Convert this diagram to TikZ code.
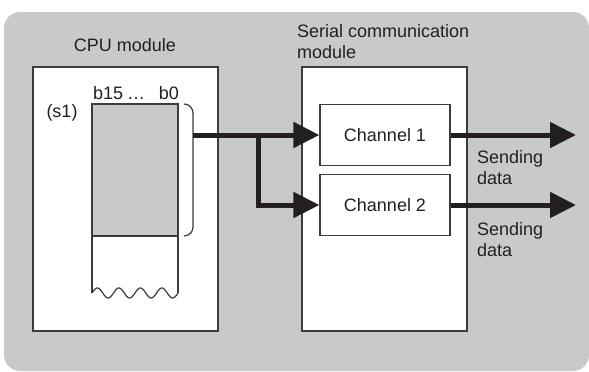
\documentclass[tikz,border=0pt]{standalone}
\usepackage{fontspec}
\setmainfont{Liberation Sans}
\usetikzlibrary{arrows.meta}
\definecolor{bggray}{HTML}{C8C9CB}
\definecolor{ink}{HTML}{231F20}
\definecolor{edge}{HTML}{3C3C3C}
\tikzset{
  lbl/.style={font=\fontsize{18}{21}\selectfont, text=ink, inner sep=0pt},
  modbox/.style={draw=edge, line width=1.2pt, fill=white},
  chbox/.style={draw=edge, line width=1.2pt, fill=white, minimum width=130pt, minimum height=61pt, inner sep=0pt, font=\fontsize{18}{21}\selectfont, text=ink},
  bigarrow/.style={draw=ink, line width=5pt, -{Triangle[length=26pt,width=25pt]}},
  thinline/.style={draw=edge, line width=1.2pt}
}
\begin{document}
\begin{tikzpicture}[x=1pt,y=-1pt]
\useasboundingbox (0,0) rectangle (589,372);
% background
\fill[bggray, rounded corners=16pt] (4,12) rectangle (589,371);
% CPU module
\node[lbl] (cputitle) at (125,45) {CPU module};
\draw[modbox] (33,67) rectangle (218,331);
% register
\fill[bggray] (92,104) rectangle (178,236);
\draw[thinline] (92,236) -- (178,236);
\draw[thinline] plot[domain=0:1, samples=120] ({92+86*\x},{293-5*sin(4*360*\x)});
\draw[thinline] (92,293) -- (92,104) -- (178,104) -- (178,293);
\node[lbl, anchor=base west] (b15) at (93,99) {b15};
\node[lbl, anchor=base] (dots) at (136,99) {…};
\node[lbl, anchor=base east] (b0) at (179,99) {b0};
\node[lbl] (s1) at (62,113) {(s1)};
% bracket
\draw[thinline, rounded corners=9pt] (184,104) -- (193,104) -- (193,236) -- (184,236);
% serial module
\node[lbl, anchor=north west, align=left] (sertitle) at (297,24) {Serial communication\\module};
\draw[modbox] (302,67) rectangle (467,331);
\node[chbox] (ch1) at (385,135) {Channel 1};
\node[chbox] (ch2) at (385,205) {Channel 2};
% arrows
\coordinate (bout) at (193,135);
\coordinate (j) at (258,135);
\draw[bigarrow] (bout) -- (ch1.west);
\draw[bigarrow] (j) |- (ch2.west);
\coordinate (o1) at (576,135);
\coordinate (o2) at (576,205);
\draw[bigarrow] (ch1.east) -- (o1);
\draw[bigarrow] (ch2.east) -- (o2);
\node[lbl, anchor=north west, align=left] (sd1) at (477,150) {Sending\\data};
\node[lbl, anchor=north west, align=left] (sd2) at (477,222) {Sending\\data};
\end{tikzpicture}
\end{document}
